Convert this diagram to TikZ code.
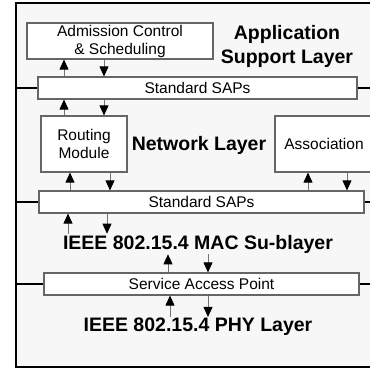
\documentclass[tikz,border=0pt]{standalone}
\usepackage{fontspec}
\setmainfont{Liberation Sans}
\usetikzlibrary{arrows.meta}
\begin{document}
\begin{tikzpicture}[x=1pt,y=-1pt]
        \tikzstyle{box}=[draw=black!60,line width=1.2pt,fill=white,inner sep=0pt,align=center,font=\fontsize{15.5}{18}\selectfont]
        \tikzstyle{layer}=[inner sep=1pt,align=center,font=\bfseries\fontsize{19.5}{24}\selectfont]
        \tikzstyle{link}=[draw=black!55,line width=0.8pt,-{Triangle[length=10pt,width=9pt,black]}]
        \tikzstyle{bar}=[draw=black,line width=2.2pt]
        \clip (0,0) rectangle (370,369);
        % frame of the stack
        \draw[line width=2.2pt,fill=black!3] (16,3) rectangle (385,367);
        \coordinate (fl) at (16,0);
        \coordinate (fr) at (372,0);
        \foreach \n/\x in {a/64,b/104,c/70,d/110,e/308,f/347,g/68,h/107,i/168,j/208,k/170}
          \coordinate (\n) at (\x,0);
       \begin{scope}
         \node [box,minimum width=186pt,minimum height=36pt] (adm) at (120,41) {Admission Control\\\& Scheduling};
         \node [layer] (asl) at (287,46) {Application\\Support Layer};
         \node [box,minimum width=319pt,minimum height=22pt] (sap1) at (197.5,88) {Standard SAPs};
         \node [box,minimum width=86pt,minimum height=56pt] (routing) at (84,144) {Routing\\Module};
         \node [layer] (net) at (199,145) {Network Layer};
         \node [box,minimum width=98pt,minimum height=56pt] (assoc) at (324,144) {Association};
         \node [box,minimum width=325pt,minimum height=22pt] (sap2) at (201.5,202) {Standard SAPs};
         \node [layer] (mac) at (198,244) {IEEE 802.15.4 MAC Su-blayer};
         \node [box,minimum width=315pt,minimum height=22pt] (sap3) at (201.5,284) {Service Access Point};
         \node [layer] (phy) at (198,327) {IEEE 802.15.4 PHY Layer};
         % layer boundaries
         \draw[bar] (sap1.west -| fl) -- (sap1.west);
         \draw[bar] (sap1.east) -- (sap1.east -| fr);
         \draw[bar] (sap2.west -| fl) -- (sap2.west);
         \draw[bar] (sap2.east) -- (sap2.east -| fr);
         \draw[bar] (sap3.west -| fl) -- (sap3.west);
         \draw[bar] (sap3.east) -- (sap3.east -| fr);
         % primitives
         \draw[link] (sap1.north -| a) -- (adm.south -| a);
         \draw[link] (adm.south -| b) -- (sap1.north -| b);
         \draw[link] (routing.north -| a) -- (sap1.south -| a);
         \draw[link] (sap1.south -| b) -- (routing.north -| b);
         \draw[link] (sap2.north -| c) -- (routing.south -| c);
         \draw[link] (routing.south -| d) -- (sap2.north -| d);
         \draw[link] (sap2.north -| e) -- (assoc.south -| e);
         \draw[link] (assoc.south -| f) -- (sap2.north -| f);
         \draw[link] (mac.north -| g) -- (sap2.south -| g);
         \draw[link] (sap2.south -| h) -- (mac.north -| h);
         \draw[link] (sap3.north -| i) -- (mac.south -| i);
         \draw[link] (mac.south -| j) -- (sap3.north -| j);
         \draw[link] (phy.north -| k) -- (sap3.south -| k);
         \draw[link] (sap3.south -| j) -- (phy.north -| j);
        \end{scope}
      \end{tikzpicture}
\end{document}
